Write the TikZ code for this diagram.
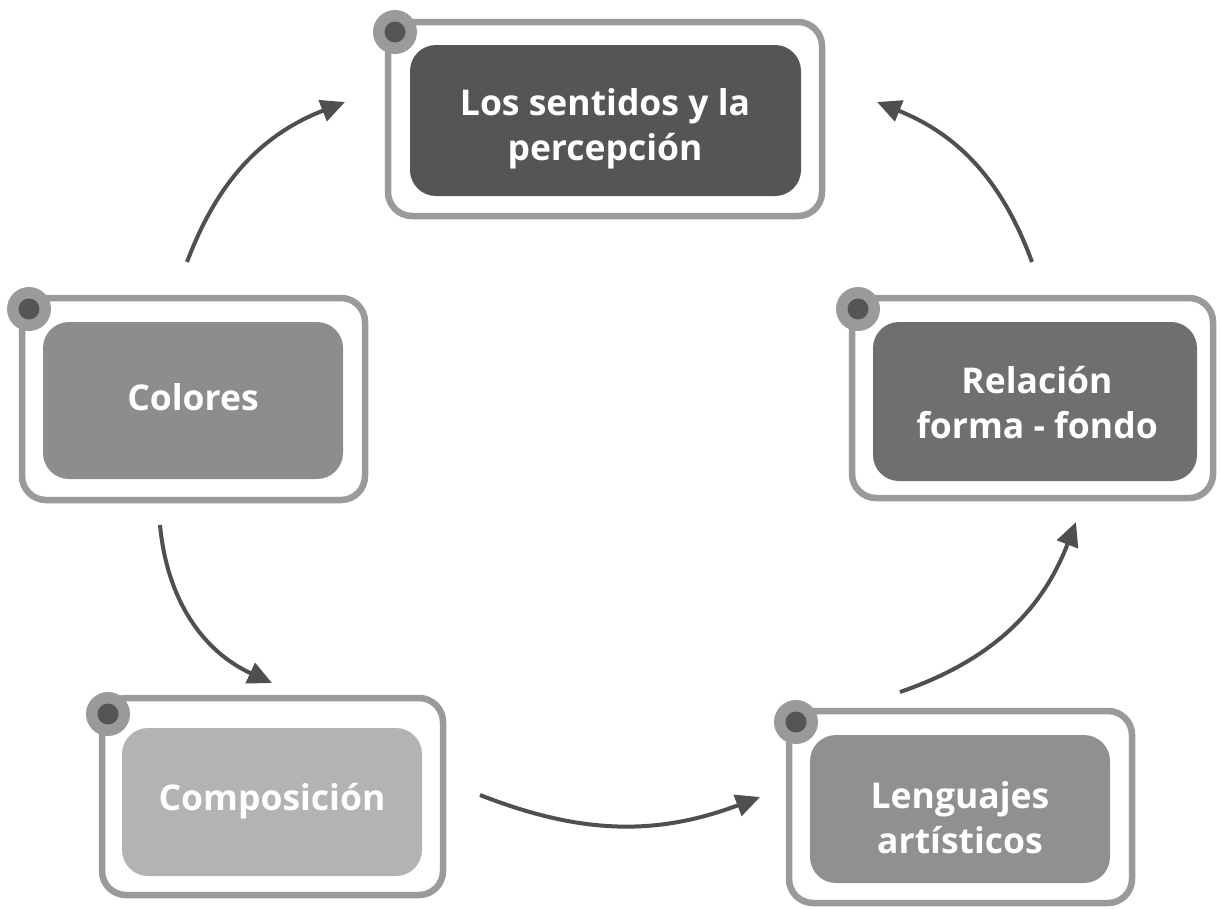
\documentclass[tikz,border=0pt]{standalone}
\usepackage{fontspec}
\setmainfont{Open Sans}
\usetikzlibrary{arrows.meta}
\definecolor{framegray}{HTML}{9A9A9A}
\definecolor{dotdark}{HTML}{555555}
\definecolor{arrowgray}{HTML}{4F4F4F}
\definecolor{cTop}{HTML}{555555}
\definecolor{cRel}{HTML}{6F6F6F}
\definecolor{cCol}{HTML}{8D8D8D}
\definecolor{cLen}{HTML}{909090}
\definecolor{cCom}{HTML}{B3B3B3}
\tikzset{
  frame/.style={draw=framegray, line width=6.5pt, rounded corners=24pt, inner sep=0pt},
  inbox/.style={rounded corners=26pt, inner sep=0pt},
  lbl/.style={text=white, inner sep=0pt,
    font=\bfseries\fontsize{35.5}{45}\selectfont, align=center},
  dotouter/.style={circle, fill=framegray, minimum size=44pt, inner sep=0pt},
  dotinner/.style={circle, fill=dotdark, minimum size=21pt, inner sep=0pt},
  flow/.style={draw=arrowgray, line width=4pt, -{Triangle[length=24pt,width=22pt]}}
}
\begin{document}
\begin{tikzpicture}[x=1pt,y=-1pt]
\useasboundingbox (0,0) rectangle (1220,908);
% frames
\node[frame, minimum width=434pt, minimum height=194pt] (topf) at (605,119) {};
\node[frame, minimum width=343pt, minimum height=202pt] (colf) at (193.5,399) {};
\node[frame, minimum width=361pt, minimum height=200pt] (relf) at (1032.5,398) {};
\node[frame, minimum width=341pt, minimum height=197pt] (comf) at (272.5,796.5) {};
\node[frame, minimum width=343pt, minimum height=192pt] (lenf) at (960.5,807) {};
% inner boxes
\node[inbox, fill=cTop, minimum width=391pt, minimum height=151pt] (top) at (605.5,120.5) {};
\node[inbox, fill=cCol, minimum width=300pt, minimum height=157pt] (col) at (193,400.5) {};
\node[inbox, fill=cRel, minimum width=324pt, minimum height=159pt] (rel) at (1035,401.5) {};
\node[inbox, fill=cCom, minimum width=300pt, minimum height=148pt] (com) at (272,802) {};
\node[inbox, fill=cLen, minimum width=300pt, minimum height=148pt] (len) at (960,809) {};
% labels
\node[lbl] (topt) at (605,129) {Los sentidos y la\\percepción};
\node[lbl] (colt) at (193,397) {Colores};
\node[lbl] (relt) at (1037,403) {Relación\\forma - fondo};
\node[lbl] (comt) at (272,801) {Composición};
\node[lbl] (lent) at (960,818) {Lenguajes\\artísticos};
% dots
\foreach \n/\p in {dtop/{(395,32)}, dcol/{(29,309)}, drel/{(858,309)}, dcom/{(108,714)}, dlen/{(796,722)}}{
  \node[dotouter] (\n o) at \p {};
  \node[dotinner] (\n i) at \p {};
}
% arrow end points
\coordinate (a1s) at (187,262);  \coordinate (a1e) at (345,102);
\coordinate (a2s) at (1032,262); \coordinate (a2e) at (877,102);
\coordinate (a3s) at (160,525);  \coordinate (a3e) at (272,683);
\coordinate (a4s) at (480,795);  \coordinate (a4e) at (760,797);
\coordinate (a5s) at (900,692);  \coordinate (a5e) at (1076,522);
\draw[flow] (a1s) to[bend left=24] (a1e);
\draw[flow] (a2s) to[bend right=24] (a2e);
\draw[flow] (a3s) to[bend right=30] (a3e);
\draw[flow] (a4s) to[bend right=21] (a4e);
\draw[flow] (a5s) to[bend right=25] (a5e);
\end{tikzpicture}
\end{document}
